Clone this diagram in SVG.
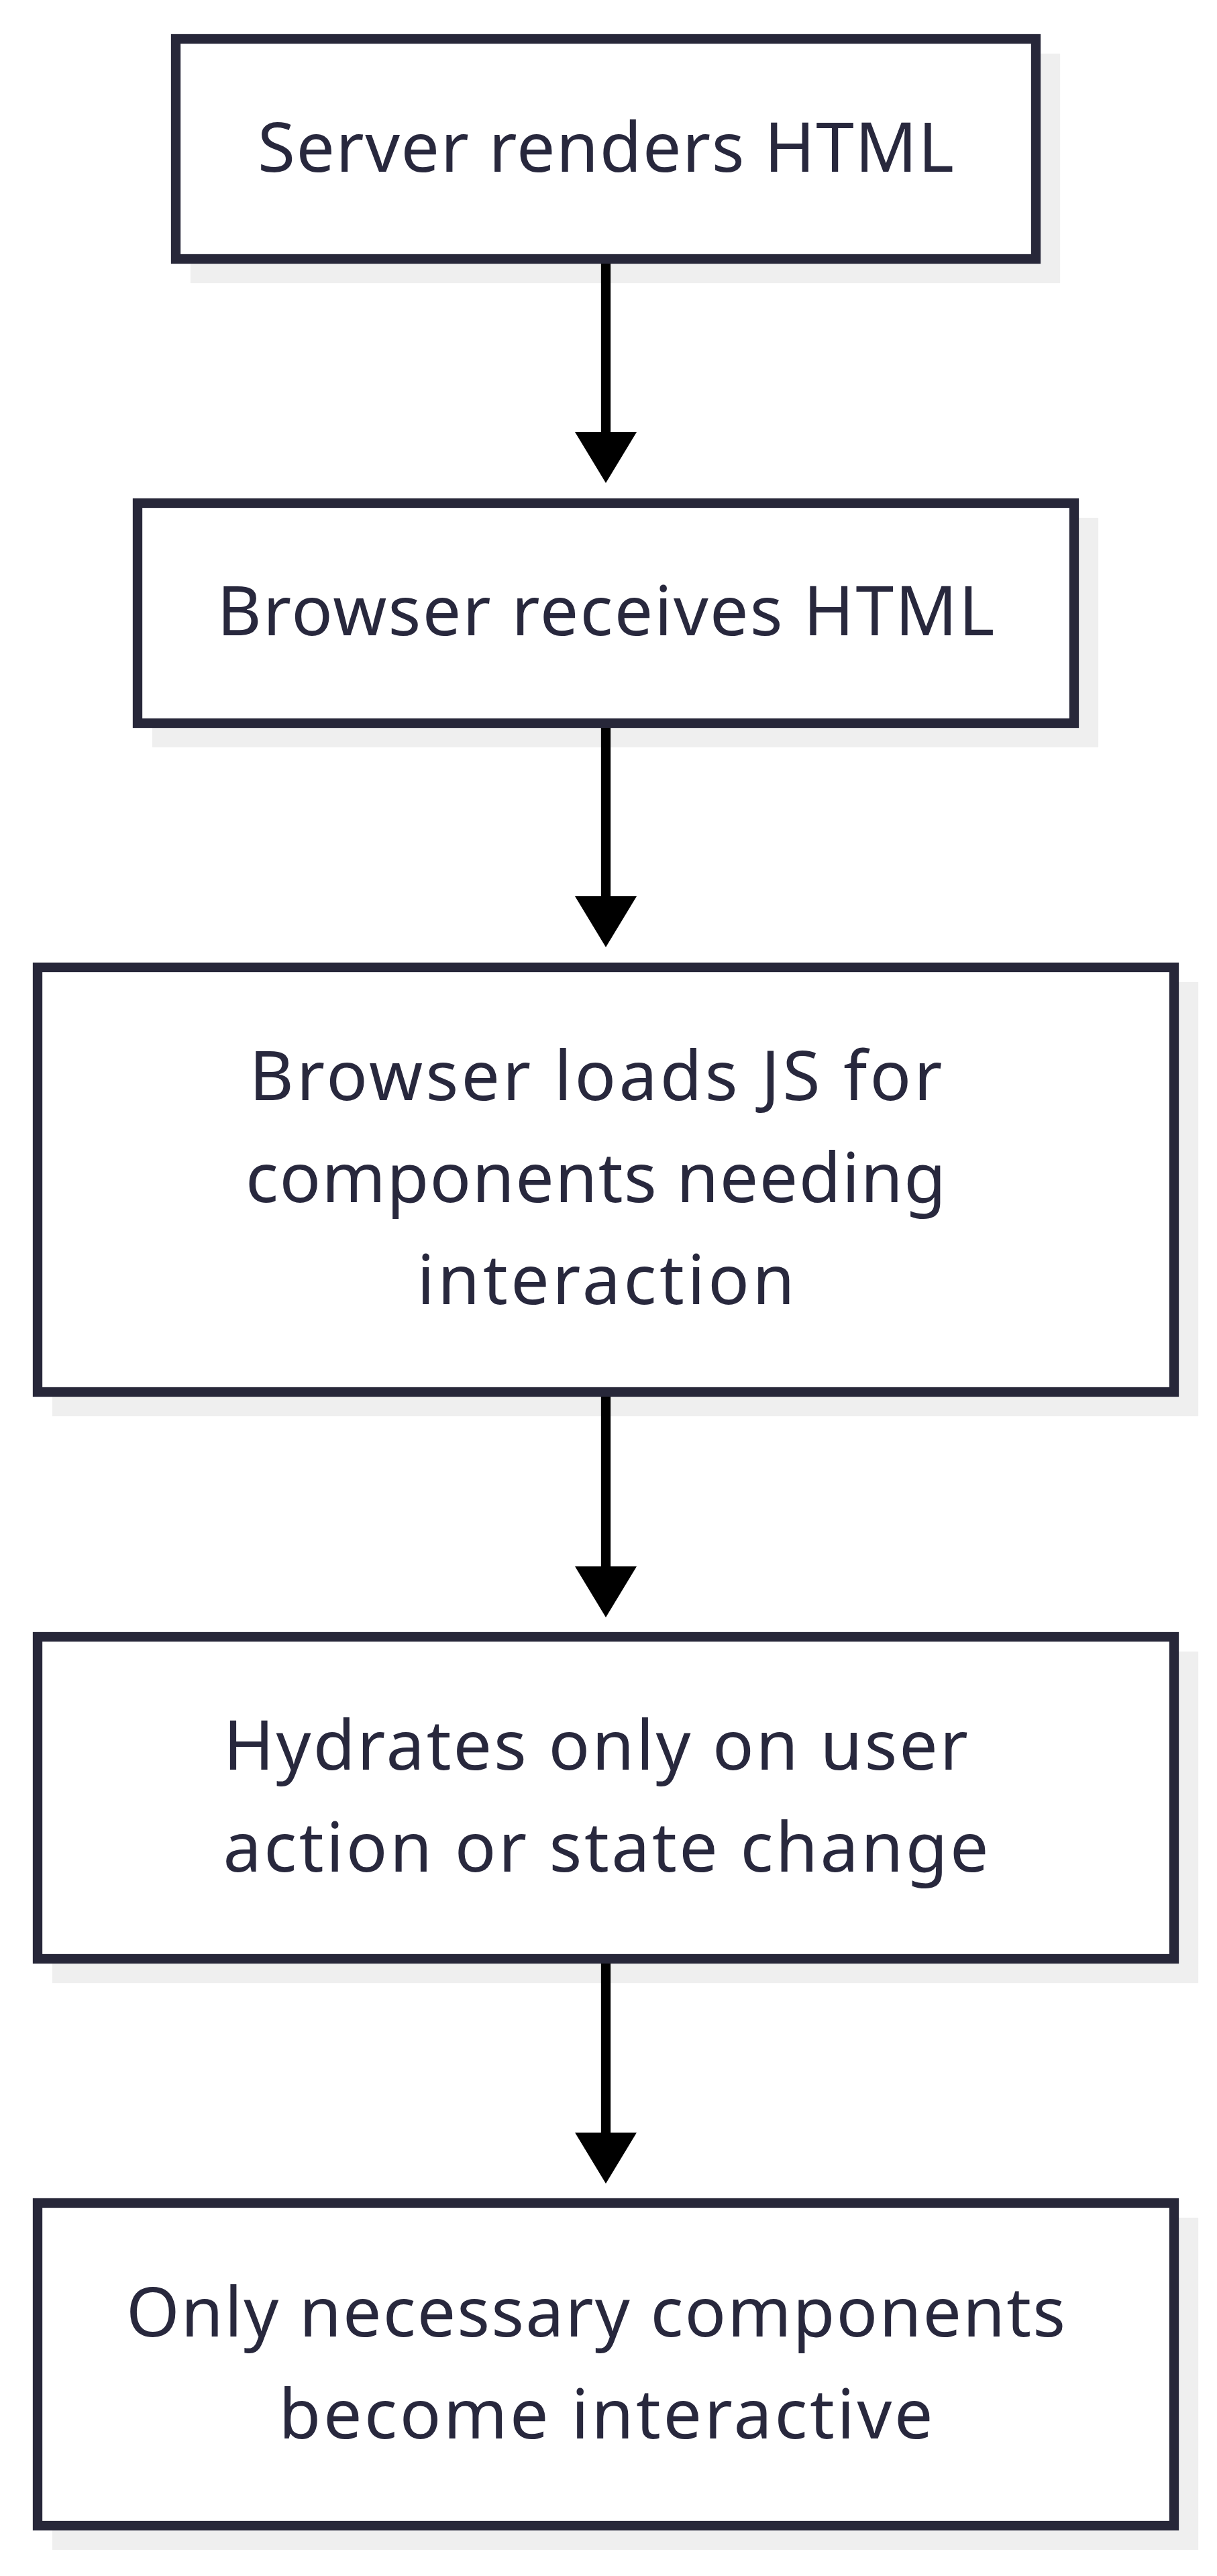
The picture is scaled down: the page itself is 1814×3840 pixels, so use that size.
<svg xmlns="http://www.w3.org/2000/svg" width="1814" height="3840" viewBox="0 0 1814 3840">
<style>
.shadow{fill:#efefef;stroke:none}
.box{fill:#ffffff;stroke:#272739;stroke-width:14.3}
.lbl{font-family:"Noto Sans","Open Sans","DejaVu Sans",sans-serif;font-size:102px;fill:#28283d;text-anchor:middle}
.edge{stroke:#000000;stroke-width:14.3;fill:none;marker-end:url(#arrow)}
</style>
<defs>
<marker id="arrow" markerUnits="userSpaceOnUse" markerWidth="76" markerHeight="92" refX="0" refY="46" orient="auto">
<path d="M0,0 L76,46 L0,92 Z" fill="#000000"/>
</marker>
</defs>
<rect width="1814" height="3840" fill="#ffffff"/>
<g id="node1">
<rect class="shadow" x="283.85" y="79.85" width="1296.3" height="342.3"/>
<rect class="box" x="262" y="58" width="1282" height="328"/>
<text class="lbl" x="903" y="256" textLength="1038" lengthAdjust="spacing">Server renders HTML</text>
</g>
<g id="node2">
<rect class="shadow" x="226.85" y="771.85" width="1410.3" height="342.3"/>
<rect class="box" x="205" y="750" width="1396" height="328"/>
<text class="lbl" x="903" y="947" textLength="1159" lengthAdjust="spacing">Browser receives HTML</text>
</g>
<g id="node3">
<rect class="shadow" x="77.85" y="1463.85" width="1708.3" height="647.3"/>
<rect class="box" x="56" y="1442" width="1694" height="633"/>
<text class="lbl" x="888" y="1640" textLength="1033" lengthAdjust="spacing">Browser loads JS for</text>
<text class="lbl" x="888" y="1792" textLength="1044" lengthAdjust="spacing">components needing</text>
<text class="lbl" x="903" y="1944" textLength="563" lengthAdjust="spacing">interaction</text>
</g>
<g id="node4">
<rect class="shadow" x="77.85" y="2461.85" width="1708.3" height="494.3"/>
<rect class="box" x="56" y="2440" width="1694" height="480"/>
<text class="lbl" x="888" y="2638" textLength="1110" lengthAdjust="spacing">Hydrates only on user</text>
<text class="lbl" x="903" y="2790" textLength="1141" lengthAdjust="spacing">action or state change</text>
</g>
<g id="node5">
<rect class="shadow" x="77.85" y="3305.85" width="1708.3" height="495.3"/>
<rect class="box" x="56" y="3284" width="1694" height="481"/>
<text class="lbl" x="888" y="3483" textLength="1400" lengthAdjust="spacing">Only necessary components</text>
<text class="lbl" x="903" y="3635" textLength="975" lengthAdjust="spacing">become interactive</text>
</g>
<g id="connectors">
<line class="edge" x1="903" y1="393" x2="903" y2="644"/>
<line class="edge" x1="903" y1="1085" x2="903" y2="1336"/>
<line class="edge" x1="903" y1="2082" x2="903" y2="2335"/>
<line class="edge" x1="903" y1="2927" x2="903" y2="3179"/>
</g>
</svg>
